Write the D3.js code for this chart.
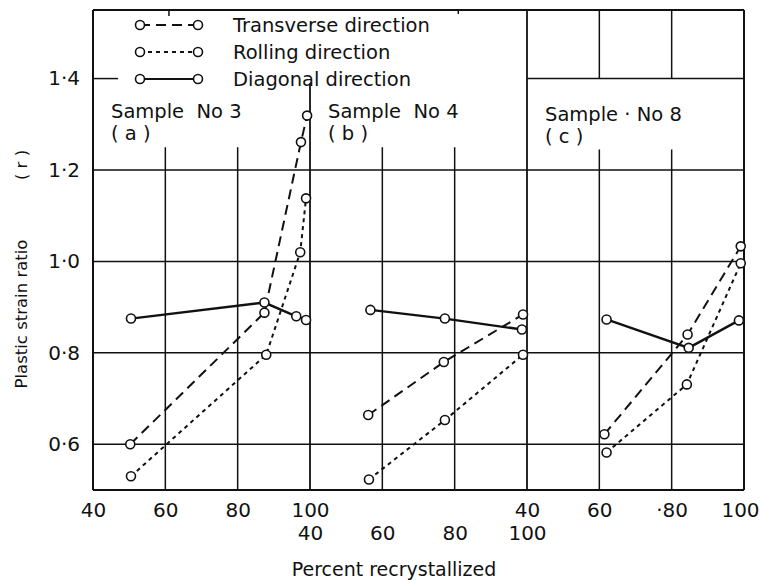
<!DOCTYPE html>
<html>
<head>
<meta charset="utf-8">
<script src="https://cdn.jsdelivr.net/npm/d3@7/dist/d3.min.js"></script>
<style>
  body{margin:0;background:#fff;}
  svg{display:block;font-family:"DejaVu Sans",sans-serif;}
</style>
</head>
<body>
<svg id="svg" width="760" height="581"></svg>
<script>
// percent recrystallized / plastic strain ratio
var transverseA_x=[50.3,87.4,97.5,99.2];
var transverseA_r=[0.600,0.888,1.261,1.319];
var rollingA_x=[50.5,87.9,97.3,98.9];
var rollingA_r=[0.530,0.796,1.020,1.138];
var diagonalA_x=[50.5,87.4,96.2,98.9];
var diagonalA_r=[0.875,0.910,0.880,0.872];

var transverseB_x=[56.1,77.0,98.9];
var transverseB_r=[0.664,0.780,0.884];
var rollingB_x=[56.3,77.3,98.9];
var rollingB_r=[0.523,0.653,0.796];
var diagonalB_x=[56.7,77.3,98.6];
var diagonalB_r=[0.894,0.875,0.851];

var transverseC_x=[61.4,84.4,99.1];
var transverseC_r=[0.622,0.840,1.033];
var rollingC_x=[62.0,84.2,99.1];
var rollingC_r=[0.582,0.731,0.996];
var diagonalC_x=[62.0,84.7,98.6];
var diagonalC_r=[0.873,0.811,0.871];

var xTicks=[40,60,80,100];
var xTickLabelsA=["40","60","80","100"];
var xTickLabelsB=["40","60","80","100"];
var xTickLabelsC=["40","60","·80","100"];
var yTicks=[0.6,0.8,1.0,1.2,1.4];
var yTickLabels=["0·6","0·8","1·0","1·2","1·4"];
var sampleNames=["Sample  No 3","Sample  No 4","Sample · No 8"];
var panelLetters=["( a )","( b )","( c )"];
var legendNames=["Transverse direction","Rolling direction","Diagonal direction"];

var svg=d3.select('#svg');
var padding={top:10,right:16,bottom:91,left:93};
var chartArea={
    "width":parseInt(svg.attr("width"))-padding.left-padding.right,
    "height":parseInt(svg.attr("height"))-padding.top-padding.bottom
};
var panelW=chartArea.width/3;
var ink="#111";

svg.append("rect").attr("width",760).attr("height",581).attr("fill","#fff");

var yScale=d3.scaleLinear().domain([0.5,1.55]).range([chartArea.height,0]);
var xScales=[0,1,2].map(function(i){
    return d3.scaleLinear().domain([40,100]).range([i*panelW,(i+1)*panelW]);
});

var g=svg.append("g").attr('transform','translate('+padding.left+','+padding.top+')');

// grid
var grid=g.append("g").attr("stroke",ink).attr("stroke-width",1.5).attr("fill","none");
function vline(x,r0,r1,w){
    grid.append("line").attr("x1",x).attr("x2",x)
        .attr("y1",yScale(r0)).attr("y2",yScale(r1))
        .attr("stroke-width",w||1.5);
}
function hline(x0,x1,r,w){
    grid.append("line").attr("x1",x0).attr("x2",x1)
        .attr("y1",yScale(r)).attr("y2",yScale(r))
        .attr("stroke-width",w||1.5);
}
[0.6,0.8,1.0,1.2].forEach(function(r){ hline(0,chartArea.width,r); });
hline(2*panelW,chartArea.width,1.4);
hline(0,25,1.4);
// inner verticals
[0,1].forEach(function(i){
    vline(xScales[i](60),1.25,0.5);
    vline(xScales[i](80),1.25,0.5);
});
vline(xScales[2](60),1.55,1.4); vline(xScales[2](60),1.245,0.5);
vline(xScales[2](80),1.55,1.4); vline(xScales[2](80),1.245,0.5);
// panel dividers and frame
vline(xScales[0](100),1.39,0.5,1.8);
vline(xScales[1](100),1.55,0.5,1.8);
vline(0,1.55,0.5,2);
vline(chartArea.width,1.55,0.5,2);
hline(0,chartArea.width,1.55,2);
hline(0,chartArea.width,0.5,2.2);
// small ticks on the top edge
grid.append("line").attr("x1",xScales[0](61)).attr("x2",xScales[0](61)).attr("y1",0).attr("y2",6);
grid.append("line").attr("x1",xScales[1](81)).attr("x2",xScales[1](81)).attr("y1",0).attr("y2",4);

// series
var series=[
    {dash:"10,6",w:2,data:[[transverseA_x,transverseA_r],[transverseB_x,transverseB_r],[transverseC_x,transverseC_r]]},
    {dash:"4,4",w:2,data:[[rollingA_x,rollingA_r],[rollingB_x,rollingB_r],[rollingC_x,rollingC_r]]},
    {dash:null,w:2.4,data:[[diagonalA_x,diagonalA_r],[diagonalB_x,diagonalB_r],[diagonalC_x,diagonalC_r]]}
];

series.forEach(function(s){
    s.data.forEach(function(p,i){
        var pts=p[0].map(function(x,j){return [x,p[1][j]];});
        var line=d3.line()
            .x(function(d){return xScales[i](d[0]);})
            .y(function(d){return yScale(d[1]);});
        g.append("path").datum(pts)
            .attr("d",line)
            .attr("fill","none")
            .attr("stroke",ink)
            .attr("stroke-width",s.w)
            .attr("stroke-dasharray",s.dash);
    });
});
series.forEach(function(s){
    s.data.forEach(function(p,i){
        var pts=p[0].map(function(x,j){return [x,p[1][j]];});
        g.append("g").selectAll("circle").data(pts).enter()
            .append("circle")
            .attr("r",4.5)
            .attr("cx",function(d){return xScales[i](d[0]);})
            .attr("cy",function(d){return yScale(d[1]);})
            .attr("fill","#fff")
            .attr("stroke",ink)
            .attr("stroke-width",1.6);
    });
});

// axes (labels only)
var xLabelSets=[xTickLabelsA,xTickLabelsB,xTickLabelsC];
var xPads=[13,36,13];
xScales.forEach(function(sc,i){
    var ax=g.append("g")
        .attr('transform','translate(0,'+chartArea.height+')')
        .call(d3.axisBottom(sc).tickValues(xTicks).tickSize(0).tickPadding(xPads[i])
            .tickFormat(function(d,k){return xLabelSets[i][k];}));
    ax.select(".domain").remove();
    ax.selectAll("text").attr("font-size",20).attr("font-family","DejaVu Sans").attr("fill",ink);
    if(i==2){
        // keep the last label inside the window
        ax.selectAll("text").filter(function(d){return d==100;}).attr("dx",-4);
    }
});
var yAxis=g.append("g")
    .call(d3.axisLeft(yScale).tickValues(yTicks).tickSize(0).tickPadding(13)
        .tickFormat(function(d,k){return yTickLabels[k];}));
yAxis.select(".domain").remove();
yAxis.selectAll("text").attr("font-size",20).attr("font-family","DejaVu Sans").attr("fill",ink);

// panel captions
[0,1,2].forEach(function(i){
    var x0=xScales[i](40)+18;
    var dy=(i==2)?3:0;
    g.append("text").attr("x",x0).attr("y",yScale(1.329)+dy).attr("dy","0.35em")
        .style("white-space","pre").attr("font-size",19.5).attr("fill",ink)
        .text(sampleNames[i]);
    g.append("text").attr("x",x0).attr("y",yScale(1.281)+dy).attr("dy","0.35em")
        .style("white-space","pre").attr("font-size",19.5).attr("fill",ink)
        .text(panelLetters[i]);
});

// legend
var legend=g.append("g");
var dashes=["10,6","4,4",null];
legendNames.forEach(function(name,i){
    var cy=15+i*27;
    legend.append("line").attr("x1",47).attr("x2",105).attr("y1",cy).attr("y2",cy)
        .attr("stroke",ink).attr("stroke-width",2).attr("stroke-dasharray",dashes[i]);
    [47,105].forEach(function(cx){
        legend.append("circle").attr("cx",cx).attr("cy",cy).attr("r",4.5)
            .attr("fill","#fff").attr("stroke",ink).attr("stroke-width",1.6);
    });
    legend.append("text").attr("x",140).attr("y",cy).attr("dy","0.35em")
        .attr("font-size",19.5).attr("fill",ink).text(name);
});

// axis titles
svg.append("text").attr("x",394).attr("y",576).attr("text-anchor","middle")
    .attr("font-size",19).attr("fill",ink).text("Percent recrystallized");
svg.append("text").attr("transform","translate(27,314) rotate(-90)").attr("text-anchor","middle")
    .attr("font-size",16.5).attr("fill",ink).text("Plastic strain ratio");
svg.append("text").attr("transform","translate(27,165) rotate(-90)").attr("text-anchor","middle")
    .style("white-space","pre").attr("font-size",16.5).attr("fill",ink).text("( r )");
</script>
</body>
</html>
